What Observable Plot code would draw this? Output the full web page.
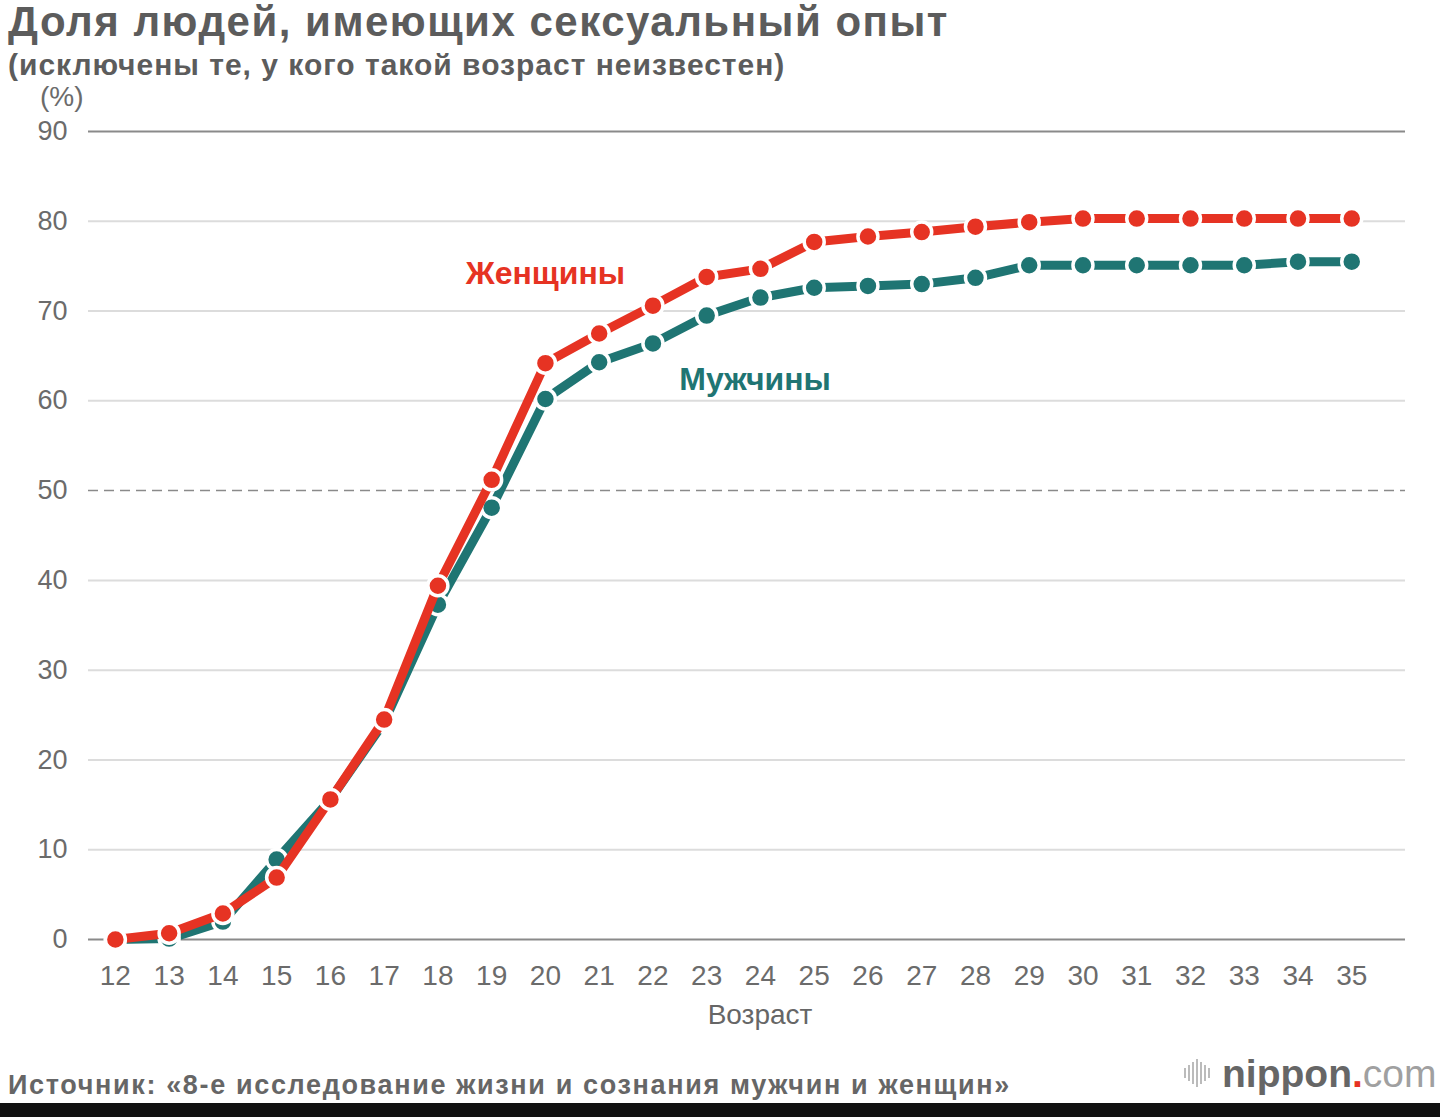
<!DOCTYPE html>
<html><head><meta charset="utf-8">
<script src="https://cdn.jsdelivr.net/npm/d3@7"></script>
<script src="https://cdn.jsdelivr.net/npm/@observablehq/plot@0.6"></script>
<style>
body{margin:0;background:#fff;width:1440px;height:1117px;position:relative;overflow:hidden;font-family:"Liberation Sans",Arial,sans-serif;}
.t{position:absolute;white-space:nowrap;color:#5c5c5c;line-height:1;}
#chart{position:absolute;left:0;top:80px;}
#band{position:absolute;left:0;top:1103px;width:1440px;height:14px;background:#111;}
.bar{position:absolute;background:#bbb;width:2px;}
</style></head><body>
<div class="t" style="left:8px;top:1px;font-size:42px;font-weight:bold;letter-spacing:1.5px;">Доля людей, имеющих сексуальный опыт</div>
<div class="t" style="left:8px;top:50px;font-size:30px;font-weight:bold;letter-spacing:1px;">(исключены те, у кого такой возраст неизвестен)</div>
<div class="t" style="left:40px;top:83px;font-size:28px;color:#6b6b6b;">(%)</div>
<div class="t" style="left:8px;top:1072px;font-size:27px;font-weight:bold;letter-spacing:1.65px;color:#666;">Источник: «8-е исследование жизни и сознания мужчин и женщин»</div>
<div id="logo"></div>
<div class="t" style="left:1222px;top:1054px;font-size:39px;"><span style="font-weight:bold;color:#666;">nippon</span><span style="font-weight:bold;color:#e63323;">.</span><span style="color:#a0a0a0;">com</span></div>
<div id="chart"></div>
<div id="band"></div>
<script>
const ages  = [12,13,14,15,16,17,18,19,20,21,22,23,24,25,26,27,28,29,30,31,32,33,34,35];
const women = [0,0.7,2.9,6.9,15.6,24.5,39.4,51.2,64.2,67.5,70.6,73.8,74.7,77.7,78.3,78.8,79.4,79.9,80.3,80.3,80.3,80.3,80.3,80.3];
const men   = [0,0.1,2.0,8.9,15.6,24.2,37.3,48.1,60.2,64.3,66.4,69.5,71.5,72.6,72.8,73.0,73.7,75.1,75.1,75.1,75.1,75.1,75.5,75.5];
const yTicks = [0,10,20,30,40,50,60,70,80,90];
const gridLight = [10,20,30,40,60,70,80];
const gridDark = [0,90];
const gridDashed = [50];
const seriesNames = ["Женщины","Мужчины"];
const labelAge = [20.0, 23.9];
const labelValue = [74.2, 62.4];

const RED = "#e63323", TEAL = "#1f7573";
const wRows = ages.map((a,i)=>({age:a, v:women[i]}));
const mRows = ages.map((a,i)=>({age:a, v:men[i]}));
const labels = seriesNames.map((n,i)=>({name:n, age:labelAge[i], v:labelValue[i], c: i===0?RED:TEAL}));

const plot = Plot.plot({
  width: 1440, height: 960,
  marginLeft: 88, marginRight: 35, marginTop: 51, marginBottom: 101,
  style: {fontFamily: '"Liberation Sans", Arial, sans-serif', fontSize: "27px", color: "#6b6b6b", background: "transparent"},
  x: {type: "linear", domain: [11.5, 36]},
  y: {domain: [0, 90]},
  marks: [
    Plot.ruleY(gridLight, {stroke: "#dcdcdc", strokeWidth: 2}),
    Plot.ruleY(gridDashed, {stroke: "#8a8a8a", strokeWidth: 1.5, strokeDasharray: "10,6"}),
    Plot.ruleY(gridDark, {stroke: "#8a8a8a", strokeWidth: 2}),
    Plot.axisY({ticks: yTicks, tickSize: 0, tickPadding: 21, fontSize: 27, label: null}),
    Plot.axisX({ticks: ages, tickSize: 0, tickPadding: 26, fontSize: 28, label: null, tickFormat: d => String(d)}),
    Plot.line(mRows, {x: "age", y: "v", stroke: TEAL, strokeWidth: 9}),
    Plot.dot(mRows, {x: "age", y: "v", r: 10, fill: TEAL, stroke: "white", strokeWidth: 3.5}),
    Plot.line(wRows, {x: "age", y: "v", stroke: RED, strokeWidth: 9}),
    Plot.dot(wRows, {x: "age", y: "v", r: 10, fill: RED, stroke: "white", strokeWidth: 3.5}),
    Plot.text(labels, {x: "age", y: "v", text: "name", fill: "c", fontSize: 32, fontWeight: "bold"}),
    Plot.text(["Возраст"], {frameAnchor: "bottom", dx: 13, dy: 76, fontSize: 28, fill: "#666", lineAnchor: "middle"})
  ]
});
document.getElementById("chart").appendChild(plot);

// decorative logo bars
const logo = document.getElementById("logo");
[[1184,10],[1188,16],[1192,22],[1196,28],[1200,22],[1204,16],[1208,10]].forEach(([x,h])=>{
  const b = document.createElement("div");
  b.className = "bar";
  b.style.left = x+"px"; b.style.top = (1073 - h/2)+"px"; b.style.height = h+"px";
  logo.appendChild(b);
});
</script>
</body></html>
